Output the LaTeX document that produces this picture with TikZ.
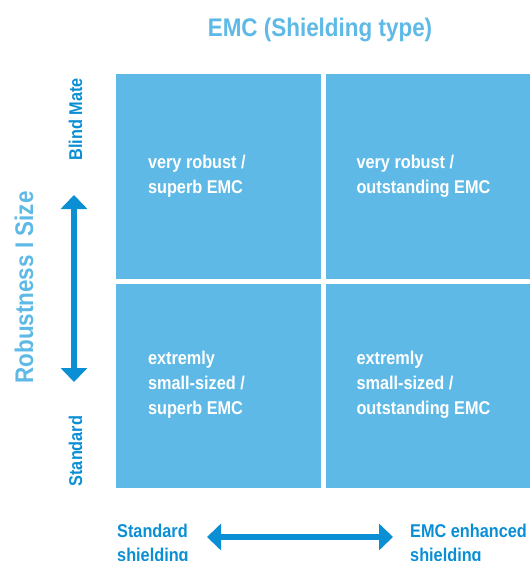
\documentclass[tikz,border=0pt]{standalone}
\usepackage{fontspec}
\setmainfont{Liberation Sans}[FakeStretch=0.88]
\usetikzlibrary{arrows.meta,calc}
\definecolor{lightblue}{HTML}{5EB9E6}
\definecolor{darkblue}{HTML}{0B8FD4}
\begin{document}
\begin{tikzpicture}[x=1pt,y=-1pt,
  cell/.style={fill=lightblue, draw=none, inner sep=0, minimum width=204.5pt, minimum height=204.5pt},
  celltext/.style={anchor=base west, inner sep=0, align=left, text=white, font=\bfseries\fontsize{18.5}{25}\selectfont},
  axislabel/.style={inner sep=0, text=darkblue, font=\bfseries\fontsize{18.5}{24.5}\selectfont},
  bigtitle/.style={inner sep=0, text=lightblue, font=\bfseries\fontsize{25.5}{30}\selectfont},
  dblarrow/.style={draw=darkblue, line width=6.7pt, {Triangle[width=26pt,length=14pt]}-{Triangle[width=26pt,length=14pt]}}
]
\useasboundingbox (0,0) rectangle (531,561);
% title
\node[bigtitle, anchor=base] (title) at (320,36.7) {EMC (Shielding type)};
% cells
\node[cell] (tl) at (218.25,176.25) {};
\node[cell] (tr) at (427.75,176.25) {};
\node[cell] (bl) at (218.25,385.75) {};
\node[cell] (br) at (427.75,385.75) {};
\node[celltext] (tltext) at ($(tl.north west)+(32,120)$) {very robust /\\superb EMC};
\node[celltext] (trtext) at ($(tr.north west)+(31,120)$) {very robust /\\outstanding EMC};
\node[celltext] (bltext) at ($(bl.north west)+(32,131)$) {extremly\\small-sized /\\superb EMC};
\node[celltext] (brtext) at ($(br.north west)+(31,131)$) {extremly\\small-sized /\\outstanding EMC};
% left axis
\node[bigtitle, anchor=base, rotate=90] (robust) at (33,287.5) {Robustness I Size};
\node[axislabel, anchor=base, rotate=90] (blind) at (82,119.5) {Blind Mate};
\node[axislabel, anchor=base, rotate=90] (stdv) at (82,451) {Standard};
\coordinate (vtop) at (74,195);
\coordinate (vbot) at (74,382);
\draw[dblarrow] (vtop) -- (vbot);
% bottom axis
\node[axislabel, anchor=base west, align=left] (stdh) at (117,561.5) {Standard\\shielding};
\node[axislabel, anchor=base west, align=left] (emch) at (410,561.5) {EMC enhanced\\shielding};
\coordinate (hleft) at (207,537);
\coordinate (hright) at (393,537);
\draw[dblarrow] (hleft) -- (hright);
\end{tikzpicture}
\end{document}
